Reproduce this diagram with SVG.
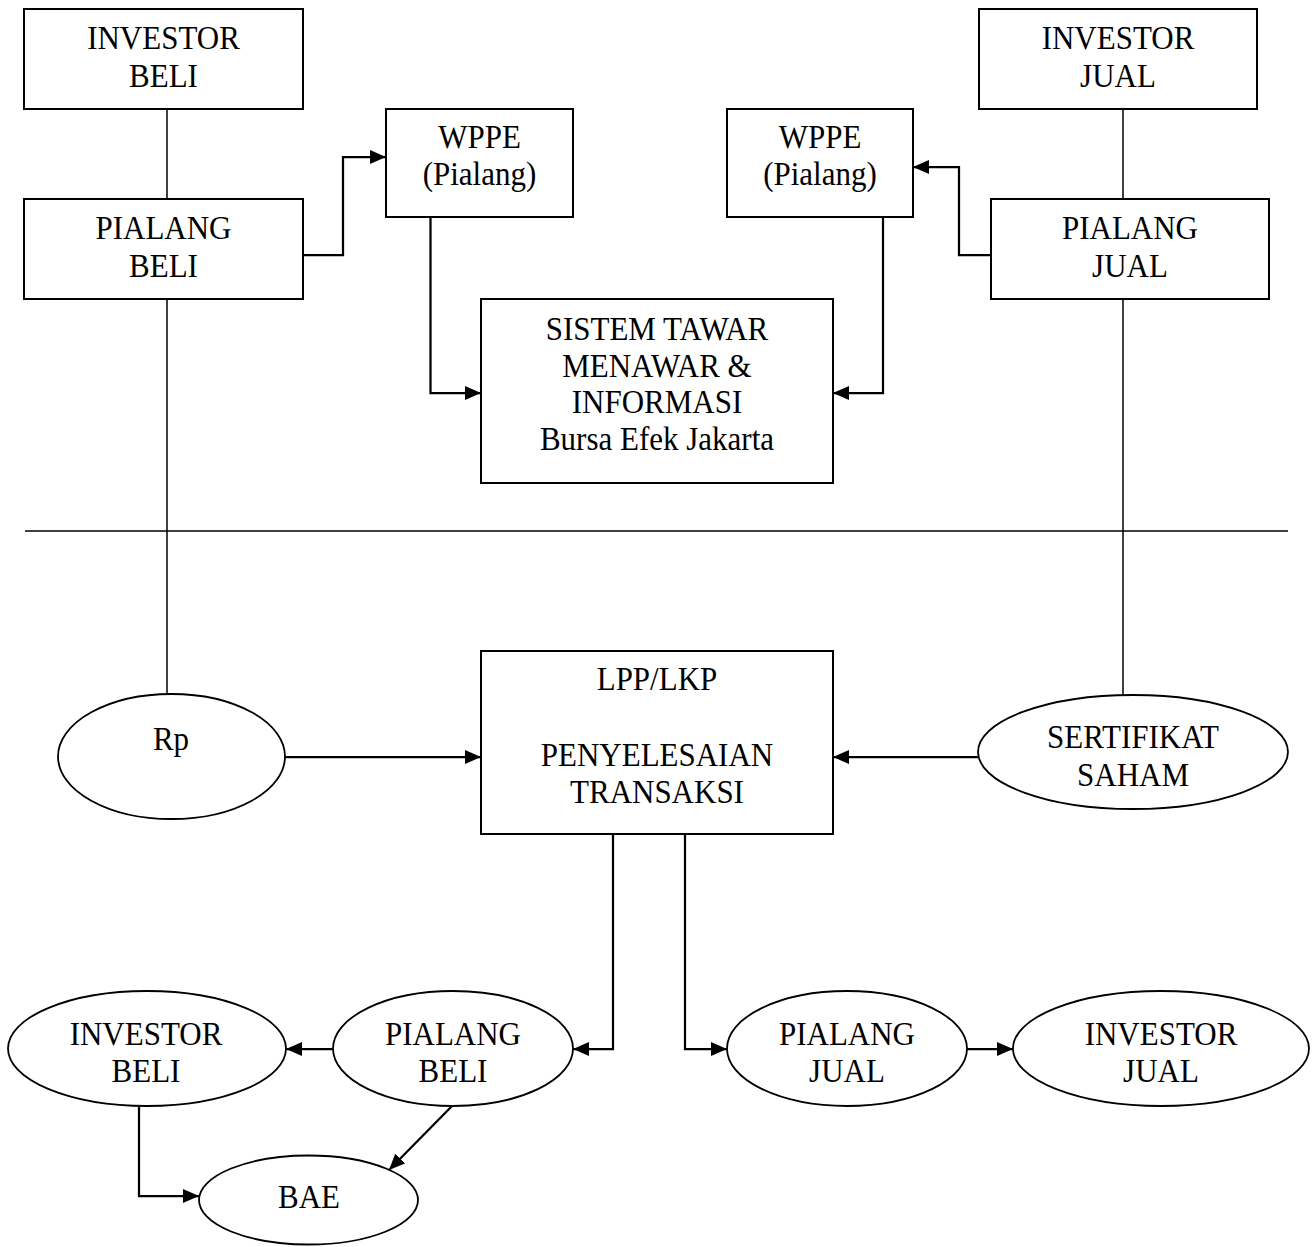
<svg xmlns="http://www.w3.org/2000/svg" width="1314" height="1247" viewBox="0 0 1314 1247">
<style>
.box{fill:#fff;stroke:#000;stroke-width:2}
.ell{fill:#fff;stroke:#000;stroke-width:1.8}
.t{font-family:"Liberation Serif","Times New Roman",serif;font-size:31px;fill:#000;text-anchor:middle}
.thin{fill:none;stroke:#000;stroke-width:1.5}
.arr{fill:none;stroke:#000;stroke-width:2.25;marker-end:url(#ah)}
</style>
<defs>
<marker id="ah" markerUnits="userSpaceOnUse" markerWidth="16" markerHeight="14" refX="16" refY="7" orient="auto">
<path d="M0,0 L16,7 L0,14 z" fill="#000"/>
</marker>
</defs>
<rect width="1314" height="1247" fill="#fff"/>
<g id="connectors">
<line class="thin" x1="167" y1="109" x2="167" y2="199"/>
<line class="thin" x1="167" y1="299" x2="167" y2="694"/>
<line class="thin" x1="1123" y1="109" x2="1123" y2="199"/>
<line class="thin" x1="1123" y1="299" x2="1123" y2="695"/>
<line class="thin" x1="25" y1="531" x2="1288" y2="531"/>
<polyline class="arr" points="303,255 343,255 343,157 386,157"/>
<polyline class="arr" points="991,255 959,255 959,167 913,167"/>
<polyline class="arr" points="430.5,217 430.5,393 481,393"/>
<polyline class="arr" points="883,217 883,393 833,393"/>
<line class="arr" x1="285" y1="757" x2="481" y2="757"/>
<line class="arr" x1="978" y1="757" x2="833" y2="757"/>
<polyline class="arr" points="613,834 613,1049 573,1049"/>
<polyline class="arr" points="685,834 685,1049 727,1049"/>
<line class="arr" x1="333" y1="1049" x2="286" y2="1049"/>
<line class="arr" x1="967" y1="1049" x2="1013" y2="1049"/>
<polyline class="arr" points="139,1106 139,1196 199,1196"/>
<line class="arr" x1="453" y1="1105" x2="389" y2="1170"/>
</g>
<g id="investor-beli-top">
<rect class="box" x="24" y="9" width="279" height="100"/>
<text class="t" transform="scale(1,1.1)" x="163.5" y="44.55">INVESTOR</text>
<text class="t" transform="scale(1,1.1)" x="163.5" y="79.09">BELI</text>
</g>
<g id="pialang-beli-top">
<rect class="box" x="24" y="199" width="279" height="100"/>
<text class="t" transform="scale(1,1.1)" x="163.5" y="217.27">PIALANG</text>
<text class="t" transform="scale(1,1.1)" x="163.5" y="251.82">BELI</text>
</g>
<g id="investor-jual-top">
<rect class="box" x="979" y="9" width="278" height="100"/>
<text class="t" transform="scale(1,1.1)" x="1118" y="44.55">INVESTOR</text>
<text class="t" transform="scale(1,1.1)" x="1118" y="79.09">JUAL</text>
</g>
<g id="pialang-jual-top">
<rect class="box" x="991" y="199" width="278" height="100"/>
<text class="t" transform="scale(1,1.1)" x="1130" y="217.27">PIALANG</text>
<text class="t" transform="scale(1,1.1)" x="1130" y="251.82">JUAL</text>
</g>
<g id="wppe-left">
<rect class="box" x="386" y="109" width="187" height="108"/>
<text class="t" transform="scale(1,1.1)" x="479.5" y="134.55">WPPE</text>
<text class="t" transform="scale(1,1.1)" x="479.5" y="168.18">(Pialang)</text>
</g>
<g id="wppe-right">
<rect class="box" x="727" y="109" width="186" height="108"/>
<text class="t" transform="scale(1,1.1)" x="820" y="134.55">WPPE</text>
<text class="t" transform="scale(1,1.1)" x="820" y="168.18">(Pialang)</text>
</g>
<g id="sistem">
<rect class="box" x="481" y="299" width="352" height="184"/>
<text class="t" transform="scale(1,1.1)" x="657" y="309.09">SISTEM TAWAR</text>
<text class="t" transform="scale(1,1.1)" x="657" y="342.73">MENAWAR &amp;</text>
<text class="t" transform="scale(1,1.1)" x="657" y="375.45">INFORMASI</text>
<text class="t" transform="scale(1,1.1)" x="657" y="409.09">Bursa Efek Jakarta</text>
</g>
<g id="rp">
<ellipse class="ell" cx="171.5" cy="756.5" rx="113.5" ry="62.5"/>
<text class="t" transform="scale(1,1.1)" x="171" y="681.82">Rp</text>
</g>
<g id="lpp">
<rect class="box" x="481" y="651" width="352" height="183"/>
<text class="t" transform="scale(1,1.1)" x="657" y="627.27">LPP/LKP</text>
<text class="t" transform="scale(1,1.1)" x="657" y="696.36">PENYELESAIAN</text>
<text class="t" transform="scale(1,1.1)" x="657" y="730">TRANSAKSI</text>
</g>
<g id="sertifikat">
<ellipse class="ell" cx="1133" cy="752" rx="155" ry="57"/>
<text class="t" transform="scale(1,1.1)" x="1133" y="680">SERTIFIKAT</text>
<text class="t" transform="scale(1,1.1)" x="1133" y="714.55">SAHAM</text>
</g>
<g id="investor-beli-bottom">
<ellipse class="ell" cx="147" cy="1048.5" rx="139" ry="57.5"/>
<text class="t" transform="scale(1,1.1)" x="146" y="950">INVESTOR</text>
<text class="t" transform="scale(1,1.1)" x="146" y="983.64">BELI</text>
</g>
<g id="pialang-beli-bottom">
<ellipse class="ell" cx="453" cy="1048.5" rx="120" ry="57.5"/>
<text class="t" transform="scale(1,1.1)" x="453" y="950">PIALANG</text>
<text class="t" transform="scale(1,1.1)" x="453" y="983.64">BELI</text>
</g>
<g id="pialang-jual-bottom">
<ellipse class="ell" cx="847" cy="1048.5" rx="120" ry="57.5"/>
<text class="t" transform="scale(1,1.1)" x="847" y="950">PIALANG</text>
<text class="t" transform="scale(1,1.1)" x="847" y="983.64">JUAL</text>
</g>
<g id="investor-jual-bottom">
<ellipse class="ell" cx="1161" cy="1048.5" rx="148" ry="57.5"/>
<text class="t" transform="scale(1,1.1)" x="1161" y="950">INVESTOR</text>
<text class="t" transform="scale(1,1.1)" x="1161" y="983.64">JUAL</text>
</g>
<g id="bae">
<ellipse class="ell" cx="308.5" cy="1200" rx="109.5" ry="44.5"/>
<text class="t" transform="scale(1,1.1)" x="309" y="1098.18">BAE</text>
</g>
</svg>
